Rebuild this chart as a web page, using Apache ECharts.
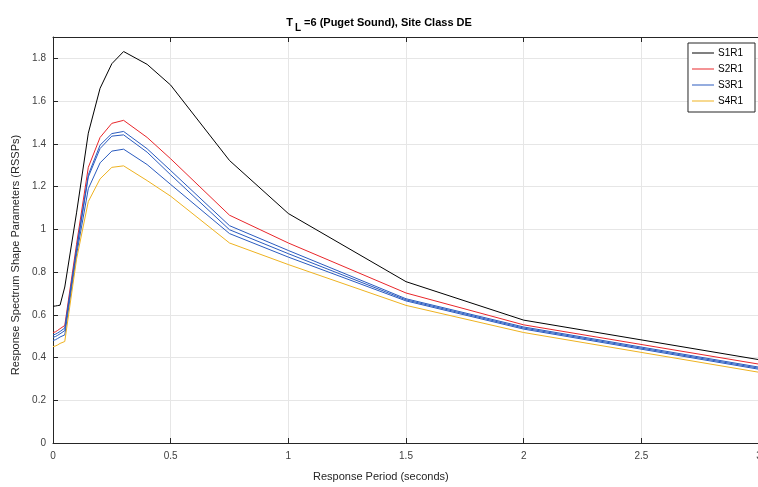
<!DOCTYPE html>
<html>
<head>
<meta charset="utf-8">
<script src="https://cdn.jsdelivr.net/npm/echarts@6/dist/echarts.min.js"></script>
<style>html,body{margin:0;padding:0;background:#fff;}#c{width:758px;height:487px;}</style>
</head>
<body>
<div id="c"></div>
<script>
const periods = [0, 0.01, 0.02, 0.03, 0.05, 0.1, 0.15, 0.2, 0.25, 0.3, 0.4, 0.5, 0.75, 1, 1.5, 2, 3];
const s1r1 = [0.640, 0.641, 0.643, 0.645, 0.730, 1.077, 1.450, 1.660, 1.775, 1.832, 1.772, 1.675, 1.322, 1.074, 0.755, 0.575, 0.390];
const s2r1 = [0.517, 0.520, 0.527, 0.535, 0.550, 0.930, 1.290, 1.430, 1.496, 1.510, 1.430, 1.330, 1.066, 0.936, 0.702, 0.553, 0.369];
const s3r1 = [0.506, 0.509, 0.515, 0.522, 0.538, 0.910, 1.255, 1.394, 1.448, 1.458, 1.377, 1.275, 1.017, 0.901, 0.675, 0.543, 0.355];
const s3r1b = [0.495, 0.498, 0.504, 0.511, 0.526, 0.900, 1.245, 1.378, 1.436, 1.442, 1.361, 1.255, 0.998, 0.886, 0.670, 0.538, 0.350];
const s3r1c = [0.480, 0.483, 0.489, 0.496, 0.506, 0.880, 1.190, 1.311, 1.366, 1.375, 1.303, 1.210, 0.980, 0.870, 0.665, 0.533, 0.345];
const s4r1 = [0.451, 0.454, 0.459, 0.466, 0.475, 0.860, 1.130, 1.236, 1.290, 1.297, 1.228, 1.155, 0.936, 0.835, 0.644, 0.517, 0.331];
const legendNames = ['S1R1', 'S2R1', 'S3R1', 'S4R1'];

const FONT = '"Liberation Sans", Arial, Helvetica, sans-serif';
const pair = arr => periods.map((p, i) => [p, arr[i]]);
const mk = (name, data, color) => ({
  name, type: 'line', data: pair(data), symbol: 'none', showSymbol: false,
  lineStyle: { width: 1, color }, itemStyle: { color }, animation: false, z: 3
});

const chart = echarts.init(document.getElementById('c'));
const axisLineStyle = { color: '#262626', width: 1 };
chart.setOption({
  animation: false,
  title: [{
    text: '{t|T}{s|L}{t| =6 (Puget Sound), Site Class DE}',
    left: 374, top: 8, textAlign: 'center',
    textStyle: {
      rich: {
        t: { fontFamily: FONT, fontSize: 11, fontWeight: 'bold', color: '#000' },
        s: { fontFamily: FONT, fontSize: 10, fontWeight: 'bold', color: '#000', padding: [10, 0, 0, 2] }
      }
    }
  }],
  graphic: [
    { type: 'text', left: 313, top: 471, style: { text: 'Response Period (seconds)', font: '11px ' + FONT, fill: '#262626' } },
    { type: 'text', x: 16, y: 255, rotation: Math.PI / 2,
      style: { text: 'Response Spectrum Shape Parameters (RSSPs)', font: '11px ' + FONT, fill: '#262626', textAlign: 'center', textVerticalAlign: 'middle' } }
  ],
  legend: {
    data: legendNames, orient: 'vertical', right: 3, top: 43,
    icon: 'rect', itemWidth: 22, itemHeight: 1, itemGap: 6,
    padding: [5, 12, 6, 4],
    backgroundColor: '#fff', borderColor: '#262626', borderWidth: 1, borderRadius: 0,
    textStyle: { fontFamily: FONT, fontSize: 10, color: '#000', padding: [0, 0, 0, -1] }
  },
  grid: { left: 53, right: -1, top: 37, bottom: 44, containLabel: false, outerBoundsMode: 'none' },
  xAxis: [{
    type: 'value', min: 0, max: 3, interval: 0.5,
    axisLine: { show: true, onZero: false, lineStyle: axisLineStyle },
    axisTick: { show: true, inside: true, length: 5, lineStyle: axisLineStyle },
    axisLabel: { fontFamily: FONT, fontSize: 10, color: '#404040', margin: 8 },
    splitLine: { show: true, lineStyle: { color: '#e6e6e6', width: 1 } }
  }, {
    type: 'value', min: 0, max: 3, interval: 0.5, position: 'top',
    axisLine: { show: true, onZero: false, lineStyle: axisLineStyle },
    axisTick: { show: true, inside: true, length: 5, lineStyle: axisLineStyle },
    axisLabel: { show: false }, splitLine: { show: false }
  }],
  yAxis: [{
    type: 'value', min: 0, max: 1.9, interval: 0.2,
    axisLine: { show: true, onZero: false, lineStyle: axisLineStyle },
    axisTick: { show: true, inside: true, length: 5, lineStyle: axisLineStyle },
    axisLabel: { fontFamily: FONT, fontSize: 10, color: '#404040', margin: 7, showMaxLabel: false,
      formatter: v => (Math.abs(v - 1.9) < 1e-6 ? '' : String(+v.toFixed(1))) },
    splitLine: { show: true, lineStyle: { color: '#e6e6e6', width: 1 } }
  }, {
    type: 'value', min: 0, max: 1.9, interval: 0.2, position: 'right',
    axisLine: { show: true, onZero: false, lineStyle: axisLineStyle },
    axisTick: { show: false }, axisLabel: { show: false }, splitLine: { show: false }
  }],
  series: [
    mk('S1R1', s1r1, '#000000'),
    mk('S2R1', s2r1, '#e8262a'),
    mk('S3R1', s3r1, '#2a5bbf'),
    mk('S3R1-b', s3r1b, '#2a5bbf'),
    mk('S3R1-c', s3r1c, '#2a5bbf'),
    mk('S4R1', s4r1, '#eeb220')
  ]
});
</script>
</body>
</html>
